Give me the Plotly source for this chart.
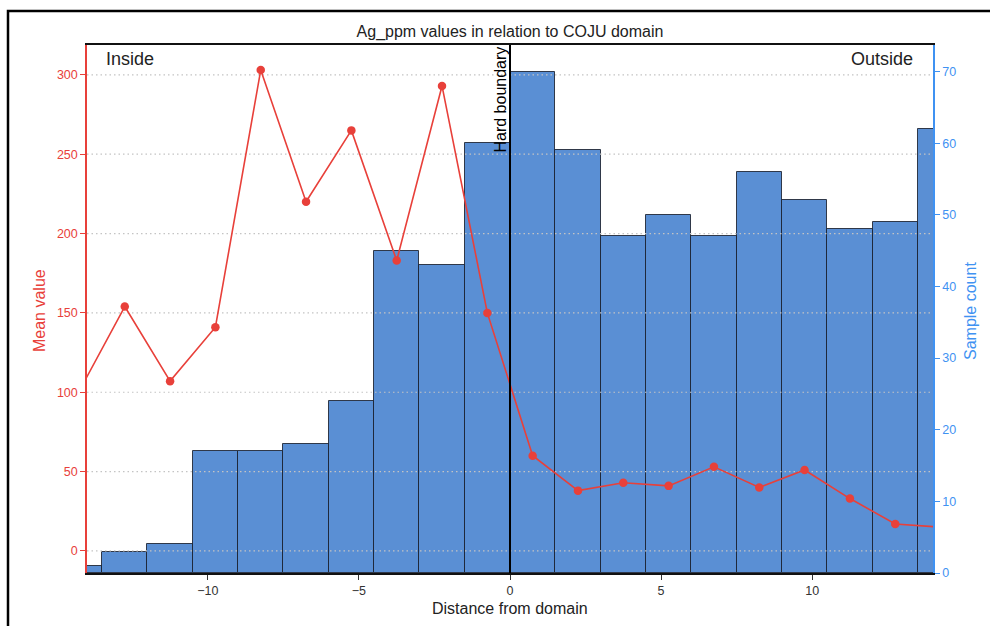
import plotly.graph_objects as go

# Binned distance from the COJU domain boundary (bin width 1.5)
bin_centers = [-14.25, -12.75, -11.25, -9.75, -8.25, -6.75, -5.25, -3.75, -2.25, -0.75,
               0.75, 2.25, 3.75, 5.25, 6.75, 8.25, 9.75, 11.25, 12.75, 14.25]
sample_counts = [1, 3, 4, 17, 17, 18, 24, 45, 43, 60,
                 70, 59, 47, 50, 47, 56, 52, 48, 49, 62]
mean_values = [101, 154, 107, 141, 303, 220, 265, 183, 293, 150,
               60, 38, 43, 41, 53, 40, 51, 33, 17, 15]
bin_width = 1.5

x_ticks = [-10, -5, 0, 5, 10]
mean_ticks = [0, 50, 100, 150, 200, 250, 300]
count_ticks = [0, 10, 20, 30, 40, 50, 60, 70]
x_range = [-14, 14]

RED = "#e8403a"
BLUE = "#3f92f2"
BAR = "#5a8fd4"
FONT = "Liberation Sans, Arial, sans-serif"

fig = go.Figure()

# Histogram of sample counts (right axis)
fig.add_trace(go.Bar(
    x=bin_centers, y=sample_counts, width=bin_width,
    marker=dict(color=BAR, line=dict(color="rgba(25,30,45,0.85)", width=1)),
    yaxis="y", hoverinfo="skip", showlegend=False,
))

# Dotted grid for the mean-value axis, drawn over the bars
gx, gy = [], []
for v in mean_ticks:
    gx += [x_range[0], x_range[1], None]
    gy += [v, v, None]
fig.add_trace(go.Scatter(
    x=gx, y=gy, yaxis="y2", mode="lines",
    line=dict(color="#c4c4c4", width=1.2, dash="1.5px,3px"),
    hoverinfo="skip", showlegend=False,
))

# Mean value per bin (left axis)
fig.add_trace(go.Scatter(
    x=bin_centers, y=mean_values, yaxis="y2", mode="lines+markers",
    line=dict(color=RED, width=1.6),
    marker=dict(color=RED, size=8.5),
    showlegend=False,
))

fig.update_layout(
    width=990, height=626,
    margin=dict(l=87, r=57, t=45, b=53),
    paper_bgcolor="white", plot_bgcolor="white",
    font=dict(family=FONT, color="#333333", size=12),
    bargap=0,
    title=dict(text="Ag_ppm values in relation to COJU domain",
               x=0.5, xref="paper", xanchor="center",
               y=1 - 31 / 626, yanchor="middle",
               font=dict(size=16, color="#222222", family=FONT)),
    xaxis=dict(range=x_range, tickvals=x_ticks, showgrid=False, zeroline=False,
               showline=True, mirror=True, linecolor="#111111", linewidth=2,
               ticks="outside", ticklen=5, tickcolor="#333333",
               tickfont=dict(size=12.5, color="#333333")),
    yaxis=dict(range=[0, 73.7], side="right", tickvals=count_ticks,
               showgrid=False, zeroline=False,
               showline=True, linecolor=BLUE, linewidth=1.5,
               ticks="outside", ticklen=5, tickcolor=BLUE,
               tickfont=dict(size=12.5, color=BLUE)),
    yaxis2=dict(range=[-13.9, 318.8], side="left", overlaying="y",
                tickvals=mean_ticks, showgrid=False, zeroline=False,
                showline=True, linecolor=RED, linewidth=1.5,
                ticks="outside", ticklen=5, tickcolor=RED,
                tickfont=dict(size=12.5, color=RED)),
)

# Domain boundary marker
fig.add_shape(type="line", xref="x", yref="paper", x0=0, x1=0, y0=0, y1=1,
              line=dict(color="black", width=2), layer="above")

# Outer frame
fig.add_shape(type="rect", xref="paper", yref="paper",
              x0=(8 - 87) / 846, x1=(1005 - 87) / 846,
              y0=(573 - 640) / 528, y1=(573 - 11) / 528,
              line=dict(color="black", width=2.5), fillcolor="rgba(0,0,0,0)",
              layer="above")

annotations = [
    dict(text="Hard boundary", x=0, xref="x", y=1, yref="paper",
         xanchor="right", yanchor="top", textangle=-90, showarrow=False,
         font=dict(size=16, color="black", family=FONT)),
    dict(text="Inside", x=(104 - 87) / 846, y=(573 - 59) / 528, xref="paper", yref="paper",
         xanchor="left", yanchor="middle", showarrow=False,
         font=dict(size=18, color="#222222", family=FONT)),
    dict(text="Outside", x=(915 - 87) / 846, y=(573 - 59) / 528, xref="paper", yref="paper",
         xanchor="right", yanchor="middle", showarrow=False,
         font=dict(size=18, color="#222222", family=FONT)),
    dict(text="Distance from domain", x=0.5, y=(573 - 608) / 528, xref="paper", yref="paper",
         xanchor="center", yanchor="middle", showarrow=False,
         font=dict(size=16, color="#222222", family=FONT)),
    dict(text="Mean value", x=(39 - 87) / 846, y=(573 - 311) / 528, xref="paper", yref="paper",
         xanchor="center", yanchor="middle", textangle=-90, showarrow=False,
         font=dict(size=16, color=RED, family=FONT)),
    dict(text="Sample count", x=(970 - 87) / 846, y=(573 - 311) / 528, xref="paper", yref="paper",
         xanchor="center", yanchor="middle", textangle=-90, showarrow=False,
         font=dict(size=16, color=BLUE, family=FONT)),
]
fig.update_layout(annotations=annotations)

fig.write_html("out.html")
